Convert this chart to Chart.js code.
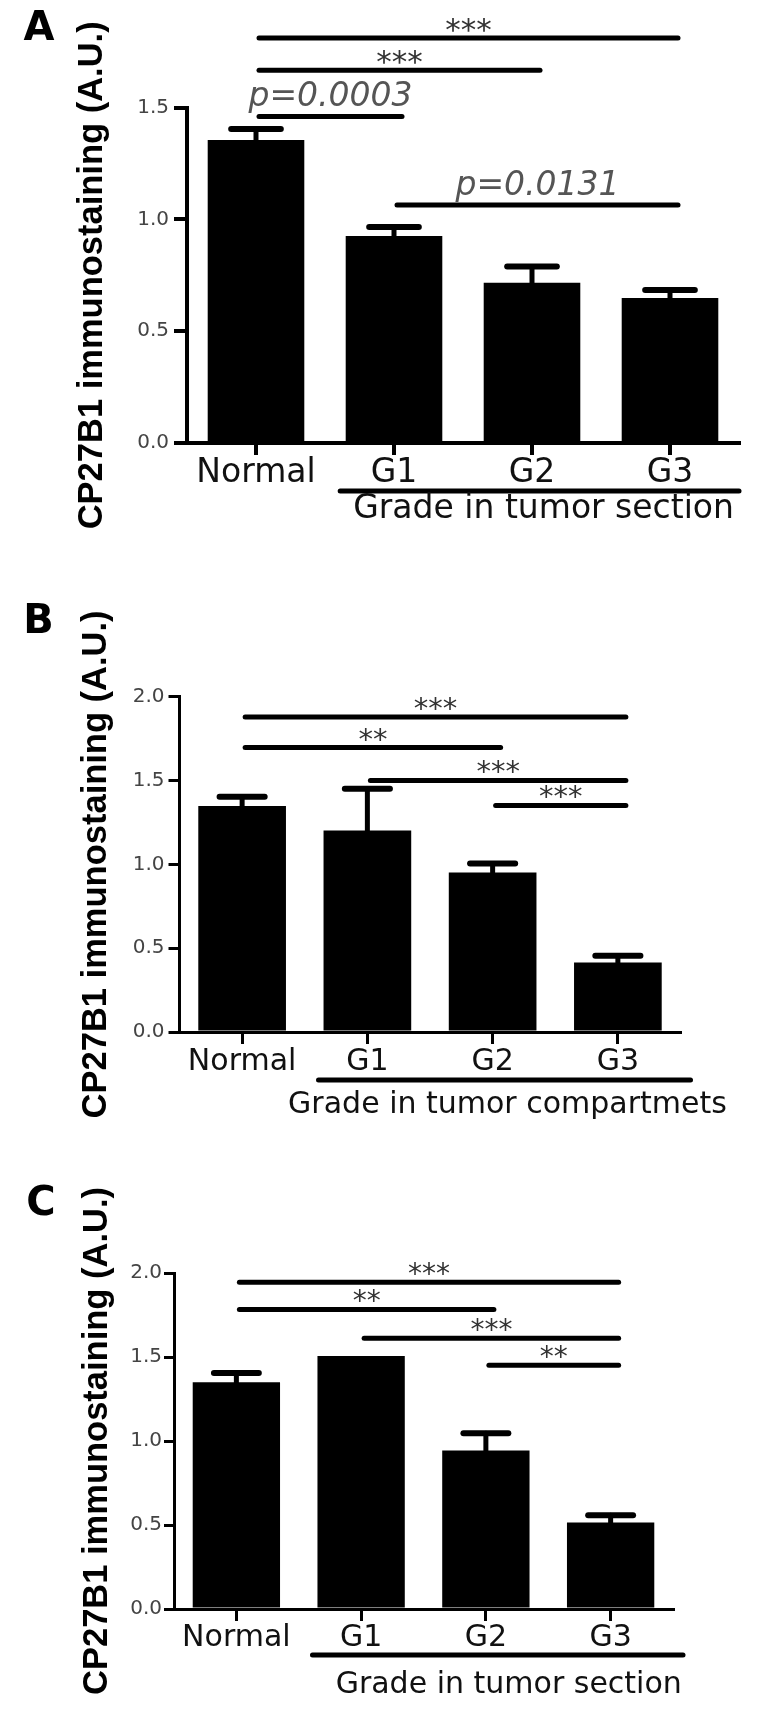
<!DOCTYPE html>
<html>
<head>
<meta charset="utf-8">
<script src="https://cdn.jsdelivr.net/npm/chart.js@4.4.1/dist/chart.umd.min.js"></script>
<style>
  html, body { margin: 0; padding: 0; background: #fff; }
  body { width: 765px; height: 1723px; position: relative; overflow: hidden; }
  .panel { position: absolute; left: 0; width: 765px; }
</style>
</head>
<body>
<div class="panel" style="top:0;height:560px"><canvas id="chartA"></canvas></div>
<div class="panel" style="top:560px;height:580px"><canvas id="chartB"></canvas></div>
<div class="panel" style="top:1140px;height:583px"><canvas id="chartC"></canvas></div>
<script>
// --- data ---
const categories = ['Normal', 'G1', 'G2', 'G3'];

const meanA = [1.356, 0.926, 0.717, 0.649];
const semA  = [0.049, 0.040, 0.073, 0.036];
const meanB = [1.348, 1.203, 0.952, 0.415];
const semB  = [0.055, 0.249, 0.053, 0.040];
const meanC = [1.350, 1.506, 0.943, 0.515];
const semC  = [0.055, 0, 0.103, 0.043];

const yTicksA = [0, 0.5, 1.0, 1.5];
const yTicksBC = [0, 0.5, 1.0, 1.5, 2.0];

const compA = [
  { from: 'Normal', to: 'G3', at: 1.812, text: '***' },
  { from: 'Normal', to: 'G2', at: 1.667, text: '***' },
  { from: 'Normal', to: 'G1', at: 1.461, text: 'p=0.0003' },
  { from: 'G1', to: 'G3', at: 1.065, text: 'p=0.0131' }
];
const compB = [
  { from: 'Normal', to: 'G3', at: 1.879, text: '***' },
  { from: 'Normal', to: 'G2', at: 1.697, text: '**' },
  { from: 'G1', to: 'G3', at: 1.501, text: '***' },
  { from: 'G2', to: 'G3', at: 1.352, text: '***' }
];
const compC = [
  { from: 'Normal', to: 'G3', at: 1.945, text: '***' },
  { from: 'Normal', to: 'G2', at: 1.783, text: '**' },
  { from: 'G1', to: 'G3', at: 1.611, text: '***' },
  { from: 'G2', to: 'G3', at: 1.451, text: '**' }
];

const yTitle = 'CP27B1 immunostaining (A.U.)';
const FONT = 'DejaVu Sans';

// extras drawn on top: error bars, comparison lines, group bar + label, panel letter
function makeDecor(mean, sem, comps, g) {
  return {
    id: 'decor',
    afterDatasetsDraw(chart) {
      const ctx = chart.ctx;
      const x = chart.scales.x, y = chart.scales.y;
      const cw = x.getPixelForValue(1) - x.getPixelForValue(0);
      ctx.save();
      ctx.lineCap = 'round';
      ctx.strokeStyle = '#000';

      // error bars (upper half only)
      sem.forEach((s, i) => {
        if (!s) return;
        const cx = x.getPixelForValue(i);
        const y0 = y.getPixelForValue(mean[i]);
        const y1 = y.getPixelForValue(mean[i] + s);
        ctx.lineWidth = 5;
        ctx.beginPath(); ctx.moveTo(cx, y0); ctx.lineTo(cx, y1); ctx.stroke();
        ctx.lineWidth = 6;
        ctx.beginPath(); ctx.moveTo(cx - cw * 0.18, y1); ctx.lineTo(cx + cw * 0.18, y1); ctx.stroke();
      });

      // significance lines
      comps.forEach(c => {
        const x1 = x.getPixelForValue(categories.indexOf(c.from)) + 3;
        const x2 = x.getPixelForValue(categories.indexOf(c.to)) + 8;
        const yy = y.getPixelForValue(c.at);
        ctx.lineWidth = 5;
        ctx.beginPath(); ctx.moveTo(x1, yy); ctx.lineTo(x2, yy); ctx.stroke();
        const mid = (x1 + x2) / 2;
        ctx.textAlign = 'center';
        ctx.textBaseline = 'alphabetic';
        if (c.text.startsWith('p')) {
          ctx.font = 'italic 33px "' + FONT + '"';
          ctx.fillStyle = '#555';
          ctx.fillText(c.text, mid, yy - 10);
        } else {
          ctx.font = g.starFont + 'px "' + FONT + '"';
          ctx.fillStyle = '#333';
          const m = ctx.measureText(c.text);
          ctx.fillText(c.text, mid, yy - 6 - m.actualBoundingBoxDescent);
        }
      });

      // group bar under G1..G3 with its label
      const gx1 = x.getPixelForValue(1) - cw * 0.39;
      const gx2 = x.right + g.underExt;
      const gy = x.top + g.underOff;
      ctx.lineWidth = 5;
      ctx.beginPath(); ctx.moveTo(gx1, gy); ctx.lineTo(gx2, gy); ctx.stroke();
      ctx.font = g.groupFont + 'px "' + FONT + '"';
      ctx.fillStyle = '#111';
      ctx.textAlign = 'center';
      ctx.textBaseline = 'middle';
      ctx.fillText(g.groupText, (gx1 + gx2) / 2 + g.groupDx, x.top + g.groupOff);

      // panel letter
      ctx.font = 'bold 40px "' + FONT + '"';
      ctx.fillStyle = '#000';
      ctx.fillText(g.letter, g.letterX, g.letterY);
      ctx.restore();
    }
  };
}

function makePanel(id, mean, sem, comps, yTicks, g) {
  const ctx = document.getElementById(id).getContext('2d');
  return new Chart(ctx, {
    type: 'bar',
    data: {
      labels: categories,
      datasets: [{
        data: mean,
        backgroundColor: '#000',
        borderWidth: 0,
        barPercentage: 0.7,
        categoryPercentage: 1
      }]
    },
    options: {
      responsive: true,
      maintainAspectRatio: false,
      devicePixelRatio: 1,
      animation: false,
      layout: { padding: { top: g.top, left: 0, right: g.right, bottom: 0 } },
      plugins: { legend: { display: false }, tooltip: { enabled: false } },
      scales: {
        x: {
          offset: true,
          afterFit: s => { s.height = g.bottom; },
          border: { display: true, color: '#000', width: g.axisW },
          grid: {
            display: true, offset: false, drawOnChartArea: false, drawTicks: true,
            tickLength: 12, lineWidth: g.tickW, tickWidth: g.tickW, color: '#000', tickColor: '#000'
          },
          ticks: {
            padding: g.xTickPad, color: '#111', maxRotation: 0, autoSkip: false,
            font: { family: FONT, size: g.catFont, lineHeight: 1 }
          }
        },
        y: {
          min: 0,
          max: yTicks[yTicks.length - 1],
          afterBuildTicks: s => { s.ticks = yTicks.map(v => ({ value: v })); },
          afterFit: s => { s.width = g.left; },
          border: { display: true, color: '#000', width: g.axisW },
          grid: {
            display: true, drawOnChartArea: false, drawTicks: true,
            tickLength: g.yTickLen, lineWidth: g.tickW, tickWidth: g.tickW, color: '#000', tickColor: '#000'
          },
          ticks: {
            padding: g.yTickPad, color: '#444',
            font: { family: FONT, size: 20, lineHeight: 1 },
            callback: v => Number(v).toFixed(1)
          },
          title: {
            display: true, text: yTitle, color: '#000',
            font: { family: 'Liberation Sans', size: 34.5, weight: 'bold', lineHeight: 1.2 },
            padding: { top: g.yTitlePad, bottom: 0 }
          }
        }
      }
    },
    plugins: [makeDecor(mean, sem, comps, g)]
  });
}

makePanel('chartA', meanA, semA, compA, yTicksA, {
  top: 107.7, left: 187, right: 26, bottom: 117,
  axisW: 4, tickW: 4, yTickLen: 13, yTickPad: 5, xTickPad: 2, catFont: 33,
  yTitlePad: 72, starFont: 31,
  underOff: 48, underExt: 0, groupOff: 66, groupFont: 33, groupDx: 4,
  groupText: 'Grade in tumor section', letter: 'A', letterX: 39, letterY: 30
});

makePanel('chartB', meanB, semB, compB, yTicksBC, {
  top: 136.8, left: 179.5, right: 84.5, bottom: 108,
  axisW: 3, tickW: 3, yTickLen: 11, yTickPad: 4, xTickPad: 3, catFont: 30,
  yTitlePad: 76, starFont: 29,
  underOff: 48, underExt: 10, groupOff: 73, groupFont: 30, groupDx: 3,
  groupText: 'Grade in tumor compartmets', letter: 'B', letterX: 38.5, letterY: 62.5
});

makePanel('chartC', meanC, semC, compC, yTicksBC, {
  top: 133, left: 174, right: 92, bottom: 114,
  axisW: 3, tickW: 3, yTickLen: 10, yTickPad: 2, xTickPad: 2.5, catFont: 30,
  yTitlePad: 77, starFont: 28,
  underOff: 46, underExt: 10, groupOff: 76, groupFont: 30, groupDx: 11,
  groupText: 'Grade in tumor section', letter: 'C', letterX: 41, letterY: 65
});
</script>
</body>
</html>
